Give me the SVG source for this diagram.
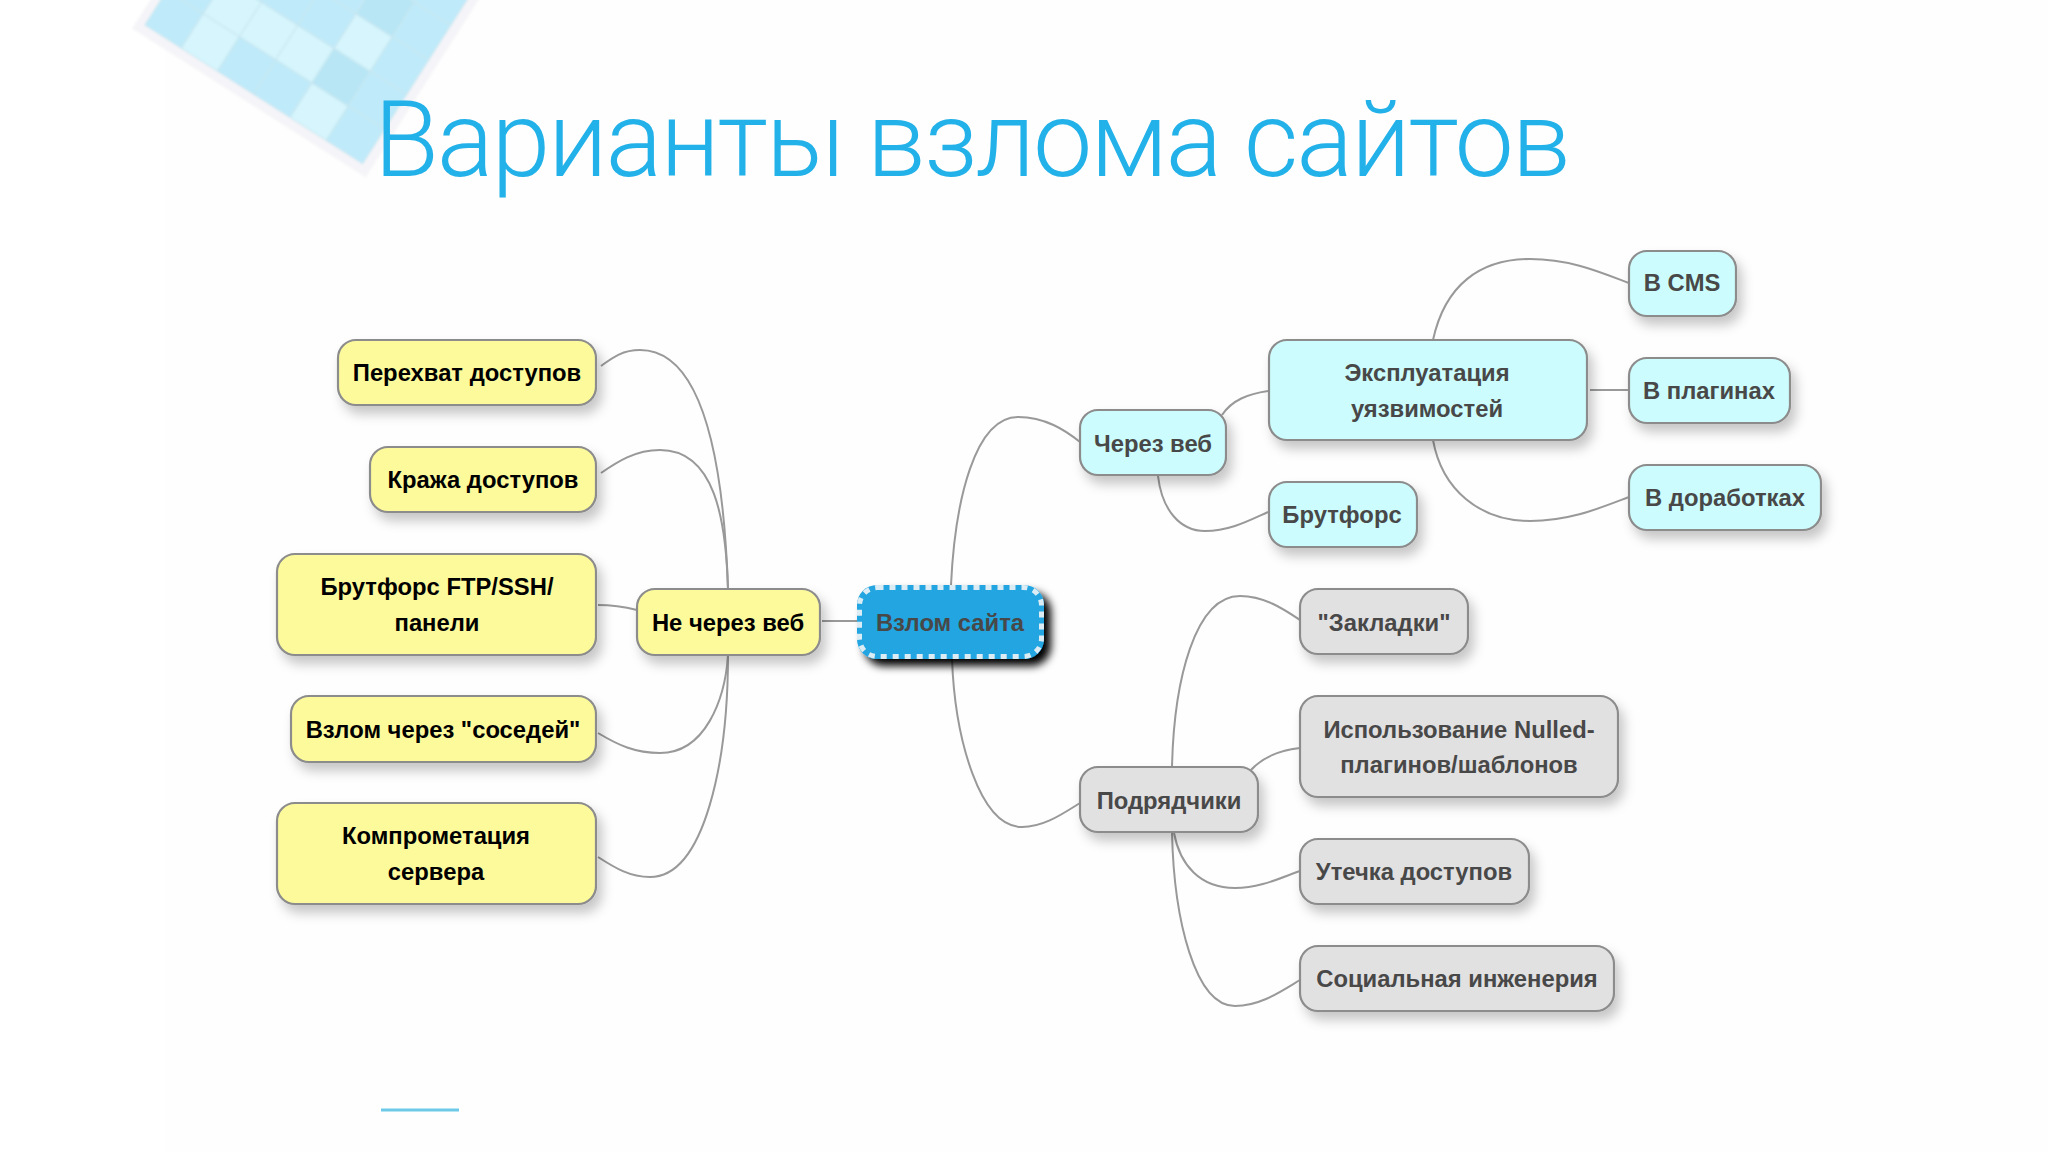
<svg xmlns="http://www.w3.org/2000/svg" width="2048" height="1152" viewBox="0 0 2048 1152">
<style>
.box{stroke:#8c8c8c;stroke-width:2.2;filter:url(#sh)}
.y{fill:#fdfa9c}.c{fill:#ccfcfd}.g{fill:#e2e1e2}
text{font-family:"Liberation Sans",Arial,sans-serif;font-weight:bold;font-size:23.8px;text-anchor:middle;fill:#484848}
.k{fill:#000}
#conns path{fill:none;stroke:#999;stroke-width:2}
.tm{fill:#bfeaf9}.tl{fill:#d6f5fd}.td{fill:#b8e6f5}
</style>
<defs>
<filter id="sh" x="-20%" y="-30%" width="150%" height="170%"><feDropShadow dx="5" dy="8" stdDeviation="6" flood-color="#000" flood-opacity=".22"/></filter>
<filter id="shk" x="-20%" y="-30%" width="150%" height="170%"><feDropShadow dx="7" dy="7" stdDeviation="4" flood-color="#000" flood-opacity="1"/></filter>
<filter id="bl"><feGaussianBlur stdDeviation="1"/></filter>
</defs>
<rect width="2048" height="1152" fill="#fff"/>
<rect x="165" width="1883" height="1152" fill="#fefefe"/>
<g id="tiles" filter="url(#bl)" transform="translate(145,25) rotate(32.5)">
<rect x="-9" y="-220" width="277" height="230" fill="#f5f4f8"/>
<g stroke="#c8e6f0" stroke-width="1">
<rect x="0" y="-41" width="43" height="41" class="tm"/><rect x="43" y="-41" width="43" height="41" class="tl"/><rect x="86" y="-41" width="43" height="41" class="tm"/><rect x="129" y="-41" width="43" height="41" class="tm"/><rect x="172" y="-41" width="43" height="41" class="tl"/><rect x="215" y="-41" width="43" height="41" class="tm"/>
<rect x="0" y="-82" width="43" height="41" class="tm"/><rect x="43" y="-82" width="43" height="41" class="tl"/><rect x="86" y="-82" width="43" height="41" class="tl"/><rect x="129" y="-82" width="43" height="41" class="tl"/><rect x="172" y="-82" width="43" height="41" class="td"/><rect x="215" y="-82" width="43" height="41" class="tm"/>
<rect x="43" y="-123" width="43" height="41" class="tm"/><rect x="86" y="-123" width="43" height="41" class="tm"/><rect x="129" y="-123" width="43" height="41" class="tm"/><rect x="172" y="-123" width="43" height="41" class="tl"/><rect x="215" y="-123" width="43" height="41" class="tm"/>
<rect x="86" y="-164" width="43" height="41" class="tm"/><rect x="129" y="-164" width="43" height="41" class="tm"/><rect x="172" y="-164" width="43" height="41" class="td"/><rect x="215" y="-164" width="43" height="41" class="tm"/>
<rect x="172" y="-210" width="43" height="46" class="tm"/><rect x="215" y="-210" width="43" height="46" class="tm"/>
</g>
</g>
<text id="title" x="374" y="176" style="text-anchor:start;font-family:Roboto,sans-serif;font-weight:300;font-size:106px;fill:#22b1e8" textLength="1197" lengthAdjust="spacing">Варианты взлома сайтов</text>
<rect x="381" y="1108.500" width="78" height="3" fill="#6cc9e8"/>
<g id="conns">
<path d="M728 589C724 470 705 350 640 350C622 350 612 358 601 366"/>
<path d="M728 589C726 520 715 450 660 450C635 450 617 462 601 473"/>
<path d="M637 610C625 607 612 605 598 605"/>
<path d="M728 655C725 700 705 753 660 753C635 753 618 745 598 733"/>
<path d="M728 655C728 760 705 877 650 877C630 877 615 868 598 857"/>
<path d="M822 621H857"/>
<path d="M951 585C955 500 975 417 1018 417C1045 417 1065 430 1080 442"/>
<path d="M952 659C955 740 980 827 1022 827C1045 827 1065 812 1080 803"/>
<path d="M1222 415C1232 400 1248 394 1268 391"/>
<path d="M1158 476C1162 510 1180 531 1205 531C1230 531 1250 520 1268 512"/>
<path d="M1433 340C1445 285 1480 259 1530 259C1570 259 1600 272 1629 283"/>
<path d="M1590 390H1629"/>
<path d="M1433 440C1442 490 1480 521 1530 521C1570 521 1600 508 1629 497"/>
<path d="M1172 767C1174 680 1195 596 1240 596C1265 596 1285 610 1300 620"/>
<path d="M1251 770C1262 758 1280 750 1300 748"/>
<path d="M1174 833C1180 865 1200 888 1235 888C1260 888 1280 878 1300 871"/>
<path d="M1172 833C1174 920 1195 1006 1235 1006C1260 1006 1280 992 1300 980"/>
</g>
<g id="n1"><rect class="box y" x="338" y="340" width="258" height="65" rx="18"/><text class="k" x="467" y="381">Перехват доступов</text></g>
<g id="n2"><rect class="box y" x="370" y="447" width="226" height="65" rx="18"/><text class="k" x="483" y="488">Кража доступов</text></g>
<g id="n3"><rect class="box y" x="277" y="554" width="319" height="101" rx="18"/><text class="k" x="437" y="595">Брутфорс FTP/SSH/</text><text class="k" x="437" y="631">панели</text></g>
<g id="n4"><rect class="box y" x="637" y="589" width="183" height="66" rx="18"/><text class="k" x="728" y="631">Не через веб</text></g>
<g id="n5"><rect class="box y" x="291" y="696" width="305" height="66" rx="18"/><text class="k" x="443" y="738">Взлом через "соседей"</text></g>
<g id="n6"><rect class="box y" x="277" y="803" width="319" height="101" rx="18"/><text class="k" x="436" y="844">Компрометация</text><text class="k" x="436" y="880">сервера</text></g>
<g id="root"><rect x="857" y="585" width="187" height="74" rx="20" fill="#24a5e0" filter="url(#shk)"/><rect x="859.500" y="587.500" width="182" height="69" rx="18" fill="none" stroke="#dcecf4" stroke-width="5" stroke-dasharray="6 6"/><text x="950" y="631">Взлом сайта</text></g>
<g id="n7"><rect class="box c" x="1080" y="410" width="146" height="65" rx="18"/><text x="1153" y="452">Через веб</text></g>
<g id="n8"><rect class="box c" x="1269" y="340" width="318" height="100" rx="18"/><text x="1427" y="381">Эксплуатация</text><text x="1427" y="417">уязвимостей</text></g>
<g id="n9"><rect class="box c" x="1269" y="482" width="148" height="65" rx="18"/><text x="1342" y="523">Брутфорс</text></g>
<g id="n10"><rect class="box c" x="1629" y="251" width="107" height="65" rx="18"/><text x="1682" y="291">В CMS</text></g>
<g id="n11"><rect class="box c" x="1629" y="358" width="161" height="65" rx="18"/><text x="1709" y="399">В плагинах</text></g>
<g id="n12"><rect class="box c" x="1629" y="465" width="192" height="65" rx="18"/><text x="1725" y="506">В доработках</text></g>
<g id="n13"><rect class="box g" x="1080" y="767" width="178" height="65" rx="18"/><text x="1169" y="809">Подрядчики</text></g>
<g id="n14"><rect class="box g" x="1300" y="589" width="168" height="65" rx="18"/><text x="1384" y="631">"Закладки"</text></g>
<g id="n15"><rect class="box g" x="1300" y="696" width="318" height="101" rx="18"/><text x="1459" y="738">Использование Nulled-</text><text x="1459" y="773">плагинов/шаблонов</text></g>
<g id="n16"><rect class="box g" x="1300" y="839" width="229" height="65" rx="18"/><text x="1414" y="880">Утечка доступов</text></g>
<g id="n17"><rect class="box g" x="1300" y="946" width="314" height="65" rx="18"/><text x="1457" y="987">Социальная инженерия</text></g>
</svg>
